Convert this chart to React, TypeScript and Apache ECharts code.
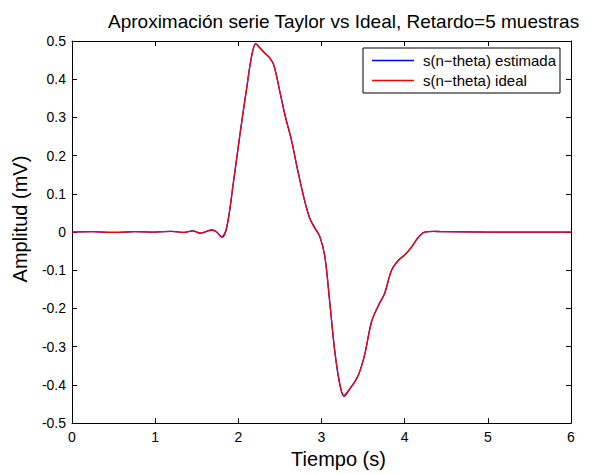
import React, { useEffect, useRef } from "react";
import * as echarts from "echarts";

const titleText = "Aproximación serie Taylor vs Ideal, Retardo=5 muestras";
const xLabel = "Tiempo (s)";
const yLabel = "Amplitud (mV)";
const seriesNames = ["s(n\u2212theta) estimada", "s(n\u2212theta) ideal"];

const time = [0, 0.25, 0.5, 0.75, 1.0, 1.2, 1.35, 1.45, 1.55, 1.62, 1.68, 1.74, 1.8, 1.86, 1.94, 2.02, 2.1, 2.16, 2.21, 2.26, 2.32, 2.38, 2.43, 2.5, 2.56, 2.64, 2.72, 2.8, 2.86, 2.92, 2.98, 3.04, 3.1, 3.16, 3.22, 3.27, 3.34, 3.44, 3.52, 3.6, 3.68, 3.76, 3.84, 3.92, 4.0, 4.08, 4.16, 4.24, 4.35, 4.45, 5.0, 6.0];

const ideal = [0, 0.001, -0.001, 0.001, 0, 0.002, -0.001, 0.003, -0.003, 0.002, 0.006, 0.0, -0.012, 0.012, 0.129, 0.257, 0.376, 0.46, 0.492, 0.481, 0.468, 0.455, 0.434, 0.366, 0.307, 0.239, 0.155, 0.079, 0.035, 0.01, -0.012, -0.063, -0.185, -0.312, -0.397, -0.427, -0.41, -0.376, -0.32, -0.236, -0.194, -0.16, -0.101, -0.075, -0.06, -0.04, -0.015, 0.0, 0.002, 0.001, 0.0, 0.0];

const estimated = [0, 0.001, -0.001, 0.001, 0, 0.002, -0.001, 0.003, -0.003, 0.002, 0.005, 0.0, -0.014, 0.011, 0.128, 0.256, 0.376, 0.461, 0.493, 0.482, 0.468, 0.455, 0.435, 0.367, 0.307, 0.239, 0.156, 0.08, 0.036, 0.011, -0.012, -0.064, -0.186, -0.313, -0.399, -0.43, -0.411, -0.376, -0.32, -0.236, -0.194, -0.16, -0.101, -0.075, -0.06, -0.04, -0.015, 0.0, 0.002, 0.001, 0.0, 0.0];

const xTicks = { min: 0, max: 6, interval: 1 };
const yTicks = { min: -0.5, max: 0.5, interval: 0.1 };

const FONT = "Liberation Sans, Arial, Helvetica, sans-serif";

export default function App() {
  const ref = useRef<HTMLDivElement>(null);
  useEffect(() => {
    if (!ref.current) return;
    const chart = echarts.init(ref.current, undefined, { renderer: "svg" });
    const axisLine = { show: true, onZero: false, lineStyle: { color: "#000", width: 1 } };
    const tick = { show: true, inside: true, length: 5, lineStyle: { color: "#000", width: 1 } };
    chart.setOption({
      animation: false,
      backgroundColor: "#fff",
      textStyle: { fontFamily: FONT },
      title: {
        text: titleText,
        left: 103,
        top: 7,
        textStyle: { fontFamily: FONT, fontSize: 19, fontWeight: "normal", color: "#000" },
      },
      grid: { left: 72, right: 28, top: 41, bottom: 39, containLabel: false },
      legend: {
        orient: "vertical",
        left: 363,
        top: 48,
        padding: [5, 4, 5, 9],
        itemGap: 5,
        itemWidth: 42,
        itemHeight: 1.3,
        icon: "rect",
        backgroundColor: "#fff",
        borderColor: "#000",
        borderWidth: 1,
        borderRadius: 0,
        textStyle: { fontFamily: FONT, fontSize: 15, lineHeight: 14, color: "#000", padding: [0, 0, 0, 4] },
        data: seriesNames,
      },
      xAxis: [
        {
          type: "value",
          ...xTicks,
          name: xLabel,
          nameLocation: "middle",
          nameGap: 18,
          nameTextStyle: { fontFamily: FONT, fontSize: 20, color: "#000", padding: [0, 0, 0, 34] },
          axisLine,
          axisTick: tick,
          axisLabel: { color: "#000", fontSize: 14, fontFamily: FONT, margin: 7 },
          splitLine: { show: false },
        },
        {
          type: "value",
          ...xTicks,
          position: "top",
          axisLine,
          axisTick: tick,
          axisLabel: { show: false },
          splitLine: { show: false },
        },
      ],
      yAxis: [
        {
          type: "value",
          ...yTicks,
          name: yLabel,
          nameLocation: "middle",
          nameGap: 42,
          nameTextStyle: { fontFamily: FONT, fontSize: 20, color: "#000", padding: [0, 0, 0, 26] },
          axisLine,
          axisTick: tick,
          axisLabel: { color: "#000", fontSize: 14, fontFamily: FONT, margin: 6 },
          splitLine: { show: false },
        },
        {
          type: "value",
          ...yTicks,
          position: "right",
          axisLine,
          axisTick: tick,
          axisLabel: { show: false },
          splitLine: { show: false },
        },
      ],
      series: [
        {
          name: seriesNames[0],
          type: "line",
          data: time.map((t, i) => [t, estimated[i]]),
          symbol: "none",
          smooth: 0.35,
          lineStyle: { color: "#0000ff", width: 1.3 },
          itemStyle: { color: "#0000ff" },
          z: 2,
        },
        {
          name: seriesNames[1],
          type: "line",
          data: time.map((t, i) => [t, ideal[i]]),
          symbol: "none",
          smooth: 0.35,
          lineStyle: { color: "#ff0000", width: 1.3 },
          itemStyle: { color: "#ff0000" },
          z: 3,
        },
      ],
    });
    return () => chart.dispose();
  }, []);
  return (
    <div
      ref={ref}
      style={{ position: "fixed", left: 0, top: 0, width: 599, height: 474, background: "#fff" }}
    />
  );
}
